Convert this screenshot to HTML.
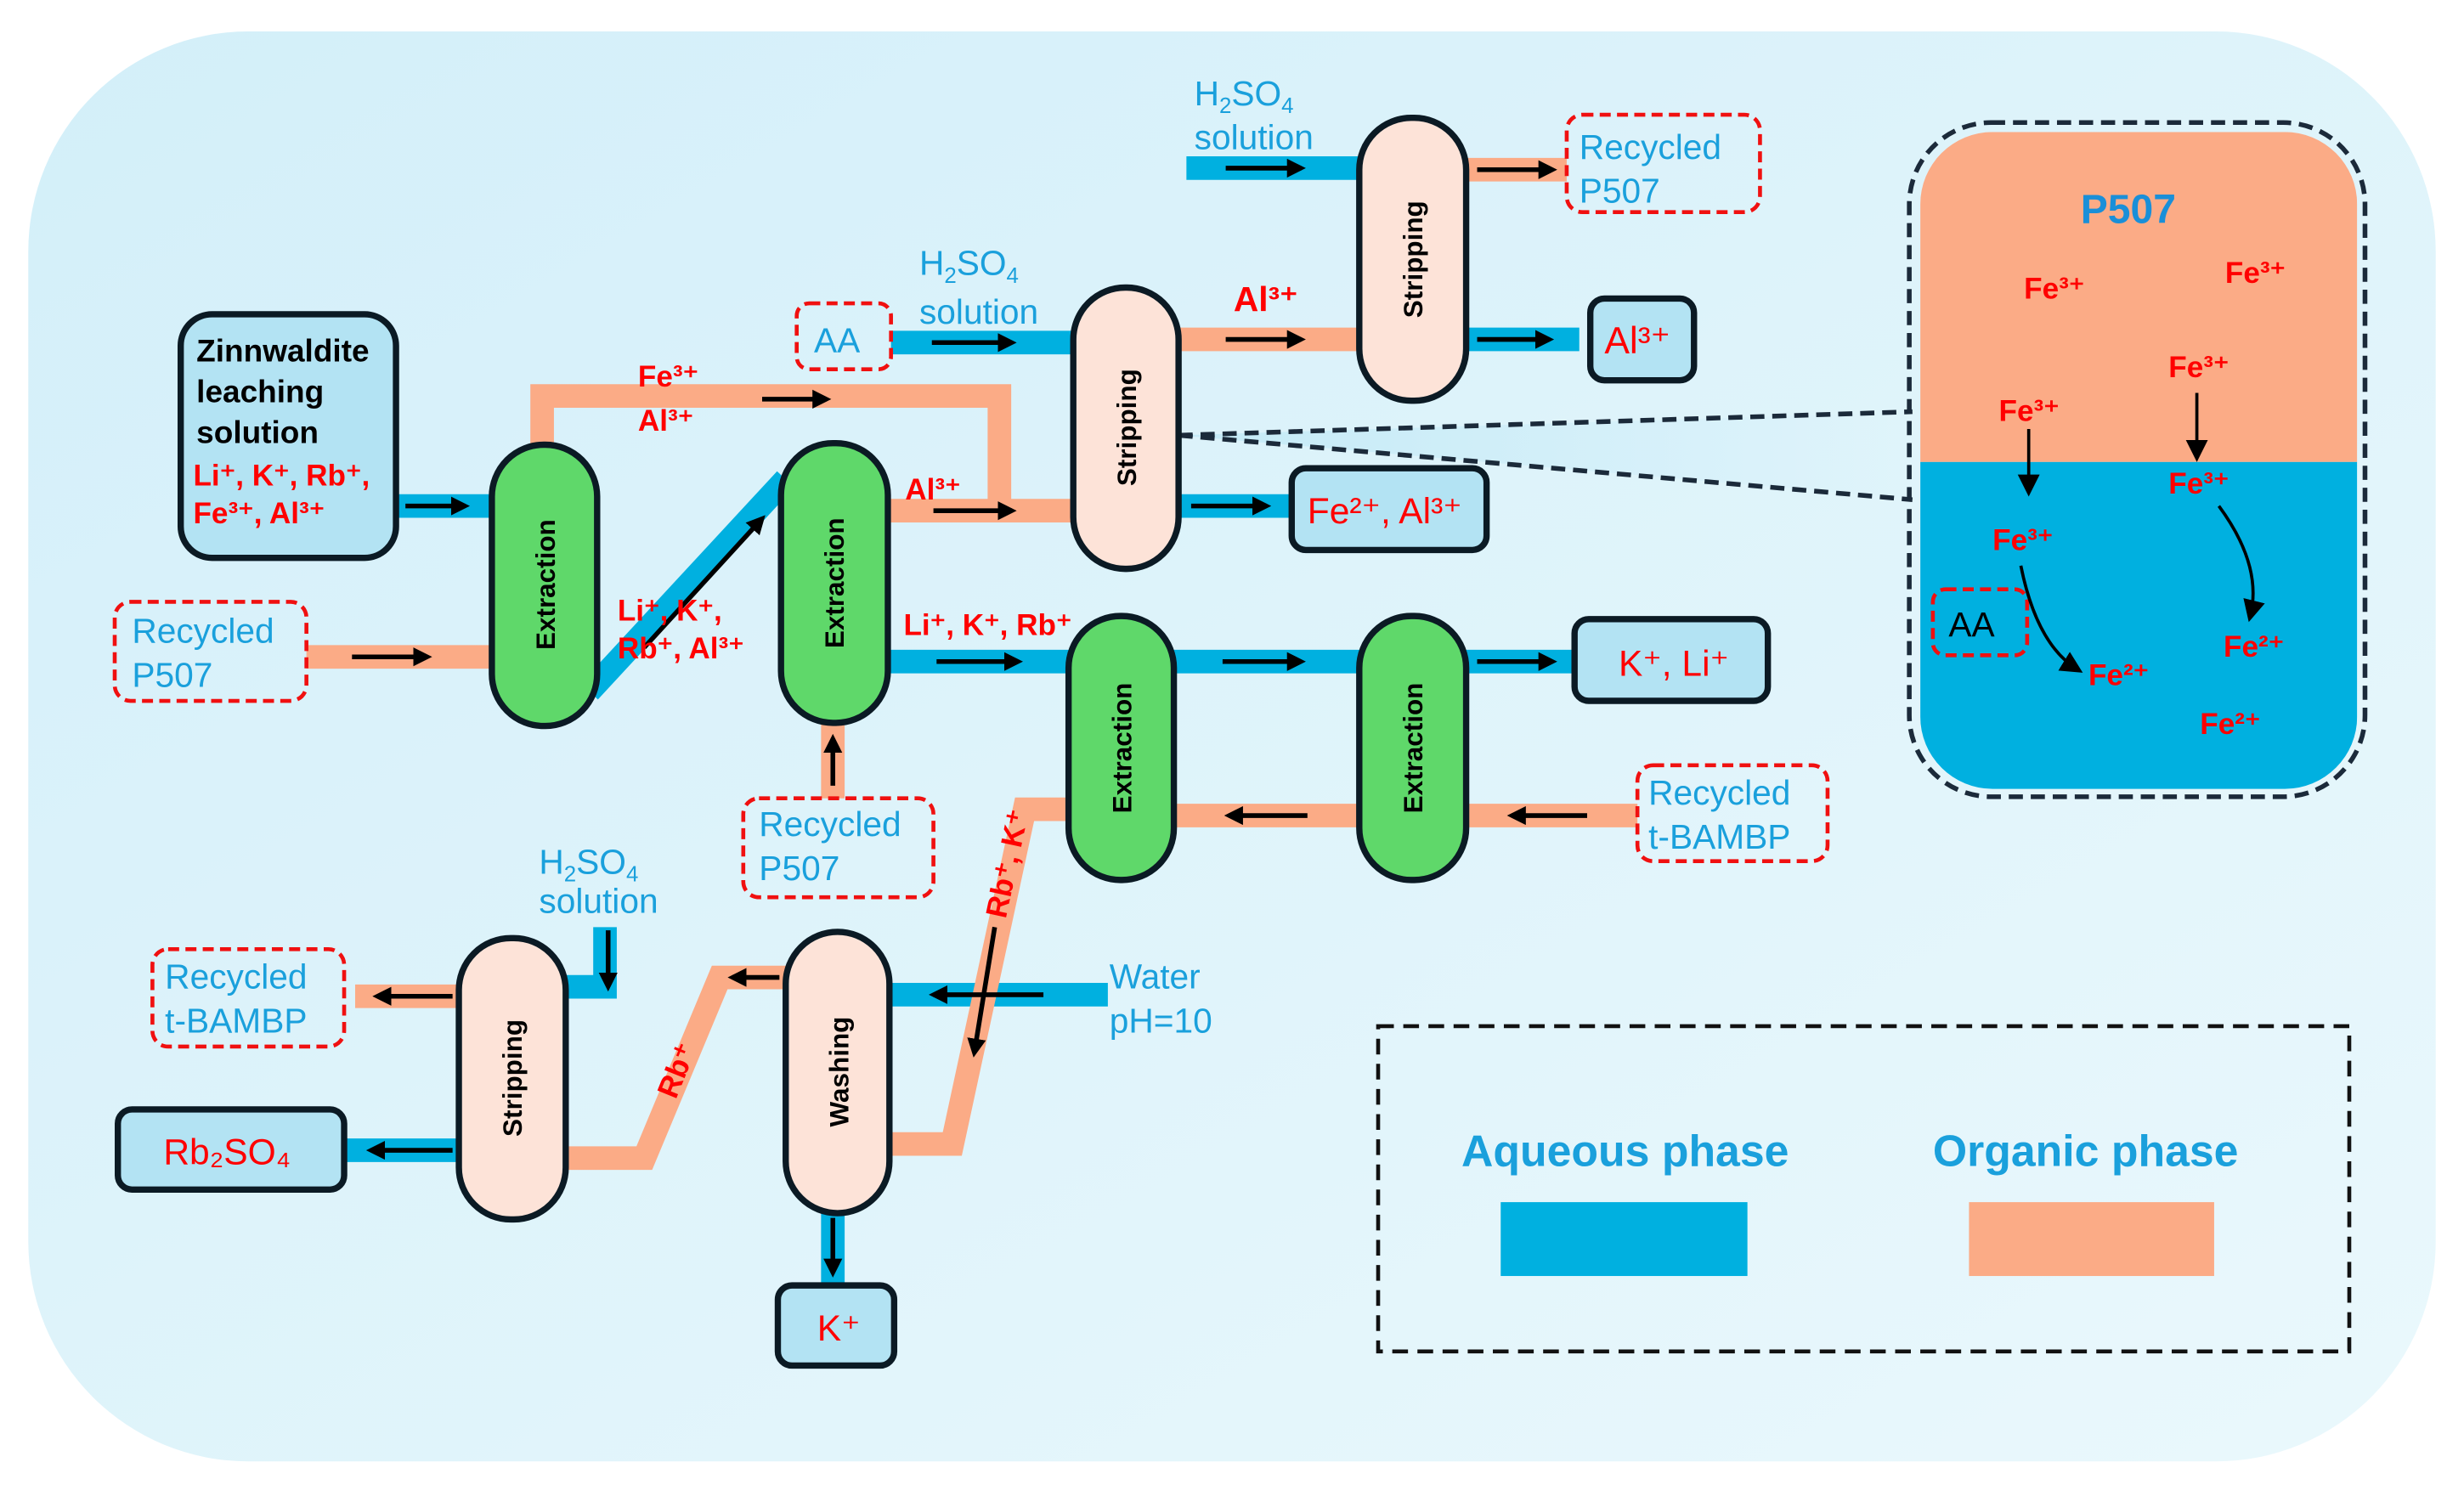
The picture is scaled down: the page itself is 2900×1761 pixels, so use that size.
<!DOCTYPE html>
<html><head><meta charset="utf-8"><style>
html,body{margin:0;padding:0;background:#fff;}
svg{display:block;}
text{font-family:"Liberation Sans",sans-serif;}
.bl{fill:#1aa0dc;font-size:22px;}
.rd{fill:#f00;font-size:19px;font-weight:bold;}
.nd{fill:#000;font-size:17px;font-weight:bold;}
</style></head><body>
<svg width="2900" height="1761" viewBox="0 0 1568 952" preserveAspectRatio="none" xmlns="http://www.w3.org/2000/svg">
<defs>
<linearGradient id="bg" x1="0" y1="0" x2="1" y2="1">
<stop offset="0" stop-color="#d3eff9"/><stop offset="1" stop-color="#eaf8fc"/></linearGradient>
<linearGradient id="cone" x1="0" y1="0" x2="1" y2="0">
<stop offset="0" stop-color="#bfe8f6"/><stop offset="1" stop-color="#e0f4fb"/></linearGradient>
<marker id="ah" markerWidth="4" markerHeight="4" refX="3" refY="2" orient="auto" markerUnits="strokeWidth">
<path d="M0,0 L4,2 L0,4 z" fill="#000"/></marker>
<marker id="ah2" markerWidth="7" markerHeight="7" refX="5" refY="3.5" orient="auto" markerUnits="strokeWidth">
<path d="M0,0 L7,3.5 L0,7 z" fill="#000"/></marker>
</defs>
<rect x="18" y="20" width="1532" height="910" rx="140" fill="url(#bg)"/>

<!-- bands -->
<g fill="none" stroke-linejoin="miter">
<g stroke="#00b0e0" stroke-width="15">
<line x1="252" y1="322" x2="315" y2="322"/>
<line x1="375" y1="440" x2="500" y2="305"/>
<line x1="567" y1="218" x2="685" y2="218"/>
<line x1="748" y1="322" x2="822" y2="322"/>
<line x1="755" y1="107" x2="867" y2="107"/>
<line x1="931" y1="216" x2="1005" y2="216"/>
<line x1="563" y1="421" x2="682" y2="421"/>
<line x1="745" y1="421" x2="867" y2="421"/>
<line x1="931" y1="421" x2="1003" y2="421"/>
<line x1="564" y1="633" x2="705" y2="633"/>
<line x1="530" y1="770" x2="530" y2="818"/>
<polyline points="385,590 385,628 358,628"/>
<line x1="219" y1="732" x2="294" y2="732"/>
</g>
<g stroke="#fbab86" stroke-width="15">
<line x1="195" y1="418" x2="315" y2="418"/>
<polyline points="345,285 345,252 636,252 636,325"/>
<line x1="563" y1="325" x2="685" y2="325"/>
<line x1="748" y1="216" x2="867" y2="216"/>
<line x1="931" y1="108" x2="997" y2="108"/>
<line x1="931" y1="519" x2="1042" y2="519"/>
<line x1="745" y1="519" x2="867" y2="519"/>
<line x1="530" y1="458" x2="530" y2="508"/>
<polyline points="682,515 652,515 606,728 564,728"/>
<polyline points="502,622 458,622 410,737 358,737"/>
<line x1="226" y1="634" x2="294" y2="634"/>
</g>
</g>

<!-- arrows -->
<g stroke="#000" stroke-width="3" marker-end="url(#ah)">
<line x1="258" y1="322" x2="296" y2="322"/>
<line x1="224" y1="418" x2="272" y2="418"/>
<line x1="410" y1="412" x2="485" y2="330"/>
<line x1="485" y1="254" x2="526" y2="254"/>
<line x1="594" y1="325" x2="644" y2="325"/>
<line x1="593" y1="218" x2="644" y2="218"/>
<line x1="780" y1="216" x2="828" y2="216"/>
<line x1="758" y1="322" x2="806" y2="322"/>
<line x1="780" y1="107" x2="828" y2="107"/>
<line x1="940" y1="108" x2="988" y2="108"/>
<line x1="940" y1="216" x2="986" y2="216"/>
<line x1="596" y1="421" x2="648" y2="421"/>
<line x1="778" y1="421" x2="828" y2="421"/>
<line x1="940" y1="421" x2="988" y2="421"/>
<line x1="1010" y1="519" x2="962" y2="519"/>
<line x1="832" y1="519" x2="782" y2="519"/>
<line x1="530" y1="500" x2="530" y2="470"/>
<line x1="664" y1="633" x2="594" y2="633"/>
<line x1="530" y1="775" x2="530" y2="810"/>
<line x1="633" y1="590" x2="620" y2="670"/>
<line x1="496" y1="622" x2="466" y2="622"/>
<line x1="387" y1="592" x2="387" y2="628"/>
<line x1="288" y1="634" x2="240" y2="634"/>
<line x1="288" y1="732" x2="236" y2="732"/>
</g>

<!-- dashed connector to inset -->
<polygon points="750,277 1222,262 1222,318" fill="url(#cone)" opacity="0.8"/>
<g stroke="#1b2a3a" stroke-width="3" stroke-dasharray="9,5" fill="none">
<line x1="750" y1="277" x2="1217" y2="262"/>
<line x1="750" y1="277" x2="1217" y2="318"/>
</g>

<!-- nodes -->
<g stroke="#0b1a24" stroke-width="4">
<rect x="115" y="200" width="137" height="155" rx="20" fill="#b3e3f3"/>
<rect x="313" y="283" width="67" height="179" rx="33" fill="#5fd86a"/>
<rect x="497" y="282" width="68" height="178" rx="33" fill="#5fd86a"/>
<rect x="680" y="392" width="67" height="168" rx="33" fill="#5fd86a"/>
<rect x="865" y="392" width="68" height="168" rx="33" fill="#5fd86a"/>
<rect x="683" y="183" width="67" height="179" rx="33" fill="#fde3d8"/>
<rect x="865" y="75" width="68" height="180" rx="33" fill="#fde3d8"/>
<rect x="500" y="593" width="66" height="179" rx="33" fill="#fde3d8"/>
<rect x="292" y="597" width="68" height="179" rx="33" fill="#fde3d8"/>
<rect x="1012" y="190" width="66" height="52" rx="9" fill="#b3e3f3"/>
<rect x="822" y="298" width="124" height="52" rx="9" fill="#b3e3f3"/>
<rect x="1002" y="394" width="123" height="52" rx="9" fill="#b3e3f3"/>
<rect x="75" y="706" width="144" height="51" rx="9" fill="#b3e3f3"/>
<rect x="495" y="818" width="74" height="51" rx="9" fill="#b3e3f3"/>
</g>
<g stroke="#f01010" stroke-width="2.5" stroke-dasharray="7,4" fill="none">
<rect x="73" y="383" width="122" height="63" rx="10"/>
<rect x="473" y="508" width="121" height="63" rx="10"/>
<rect x="507" y="193" width="60" height="42" rx="8"/>
<rect x="997" y="73" width="123" height="62" rx="10"/>
<rect x="1042" y="487" width="121" height="61" rx="10"/>
<rect x="97" y="604" width="122" height="62" rx="10"/>
</g>

<!-- inset -->
<rect x="1215" y="78" width="290" height="429" rx="52" fill="none" stroke="#1b2a3a" stroke-width="3" stroke-dasharray="9,5"/>
<clipPath id="ic"><rect x="1222" y="84" width="278" height="418" rx="46"/></clipPath>
<g clip-path="url(#ic)">
<rect x="1222" y="84" width="278" height="210" fill="#fbab86"/>
<rect x="1222" y="294" width="278" height="210" fill="#00b0e0"/>
</g>
<rect x="1230" y="375" width="60" height="42" rx="8" fill="none" stroke="#f01010" stroke-width="2.5" stroke-dasharray="7,4"/>
<g stroke="#000" stroke-width="2" fill="none" marker-end="url(#ah2)">
<line x1="1291" y1="273" x2="1291" y2="312"/>
<line x1="1398" y1="250" x2="1398" y2="290"/>
<path d="M1286,360 Q1296,410 1322,426"/>
<path d="M1412,322 Q1440,360 1432,392"/>
</g>

<!-- text -->
<g class="nd" text-anchor="middle">
<text transform="translate(353,372) rotate(-90)">Extraction</text>
<text transform="translate(537,371) rotate(-90)">Extraction</text>
<text transform="translate(720,476) rotate(-90)">Extraction</text>
<text transform="translate(905,476) rotate(-90)">Extraction</text>
<text transform="translate(723,272) rotate(-90)">Stripping</text>
<text transform="translate(905,165) rotate(-90)">Stripping</text>
<text transform="translate(540,682) rotate(-90)">Washing</text>
<text transform="translate(332,686) rotate(-90)">Stripping</text>
</g>
<g font-size="20" font-weight="bold" fill="#000">
<text x="125" y="230">Zinnwaldite</text>
<text x="125" y="256">leaching</text>
<text x="125" y="282">solution</text>
</g>
<g class="rd">
<text x="123" y="309">Li⁺, K⁺, Rb⁺,</text>
<text x="123" y="333">Fe³⁺, Al³⁺</text>
<text x="406" y="246">Fe³⁺</text>
<text x="406" y="274">Al³⁺</text>
<text x="576" y="318">Al³⁺</text>
<text x="393" y="395">Li⁺, K⁺,</text>
<text x="393" y="419">Rb⁺, Al³⁺</text>
<text x="575" y="404">Li⁺, K⁺, Rb⁺</text>
<text x="785" y="198" font-size="22">Al³⁺</text>
<text x="1021" y="225" font-size="24" font-weight="normal">Al³⁺</text>
<text x="832" y="333" font-size="23" font-weight="normal">Fe²⁺, Al³⁺</text>
<text x="1030" y="430" font-size="23" font-weight="normal">K⁺, Li⁺</text>
<text x="104" y="741" font-size="23" font-weight="normal">Rb₂SO₄</text>
<text x="520" y="853" font-size="23" font-weight="normal">K⁺</text>
<text transform="translate(430,700) rotate(-68)">Rb⁺</text>
<text transform="translate(640,585) rotate(-78)">Rb⁺, K⁺</text>
<text x="1288" y="190">Fe³⁺</text>
<text x="1416" y="180">Fe³⁺</text>
<text x="1380" y="240">Fe³⁺</text>
<text x="1272" y="268">Fe³⁺</text>
<text x="1380" y="314">Fe³⁺</text>
<text x="1268" y="350">Fe³⁺</text>
<text x="1329" y="436">Fe²⁺</text>
<text x="1415" y="418">Fe²⁺</text>
<text x="1400" y="467">Fe²⁺</text>
</g>
<g class="bl">
<text x="84" y="409">Recycled</text><text x="84" y="437">P507</text>
<text x="483" y="532">Recycled</text><text x="483" y="560">P507</text>
<text x="1005" y="101">Recycled</text><text x="1005" y="129">P507</text>
<text x="1049" y="512">Recycled</text><text x="1049" y="540">t-BAMBP</text>
<text x="105" y="629">Recycled</text><text x="105" y="657">t-BAMBP</text>
<text x="518" y="224">AA</text>
<text x="585" y="175">H<tspan font-size="14" dy="5">2</tspan><tspan dy="-5">SO</tspan><tspan font-size="14" dy="5">4</tspan></text>
<text x="585" y="206">solution</text>
<text x="760" y="67">H<tspan font-size="14" dy="5">2</tspan><tspan dy="-5">SO</tspan><tspan font-size="14" dy="5">4</tspan></text>
<text x="760" y="95">solution</text>
<text x="343" y="556">H<tspan font-size="14" dy="5">2</tspan><tspan dy="-5">SO</tspan><tspan font-size="14" dy="5">4</tspan></text>
<text x="343" y="581">solution</text>
<text x="706" y="629">Water</text>
<text x="706" y="657">pH=10</text>
<text x="1324" y="142" font-size="26" font-weight="bold" fill="#1a8fd8">P507</text>
<text x="930" y="742" font-size="28" font-weight="bold">Aqueous phase</text>
<text x="1230" y="742" font-size="28" font-weight="bold">Organic phase</text>
</g>
<text x="1240" y="405" font-size="22" fill="#000">AA</text>

<!-- legend -->
<rect x="877" y="653" width="618" height="207" fill="none" stroke="#111" stroke-width="2.5" stroke-dasharray="10,6"/>
<rect x="955" y="765" width="157" height="47" fill="#00b0e0"/>
<rect x="1253" y="765" width="156" height="47" fill="#fbab86"/>
</svg>
</body></html>
